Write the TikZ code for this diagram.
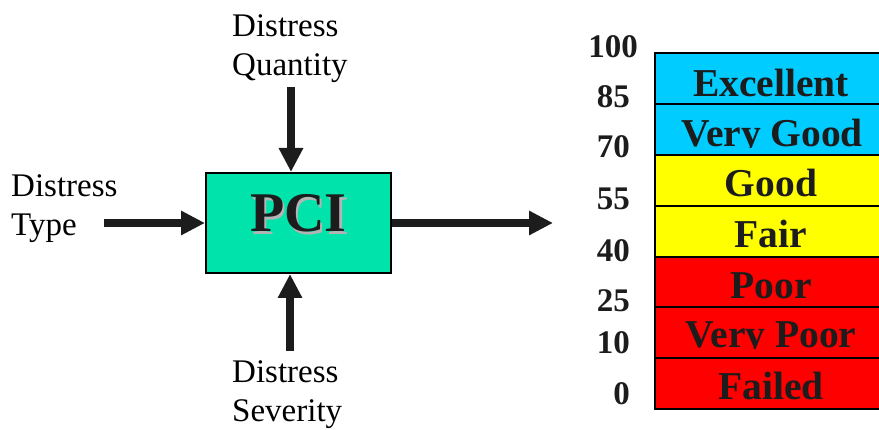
\documentclass[tikz,border=0pt]{standalone}
\usepackage{fontspec}
\setmainfont{Liberation Serif}
\usetikzlibrary{arrows.meta}
\definecolor{ink}{HTML}{1C1C1C}
\definecolor{pcigreen}{HTML}{00E3AA}
\definecolor{exccyan}{HTML}{00CCFF}
\definecolor{goodyellow}{HTML}{FFFF00}
\definecolor{poorred}{HTML}{FF0000}
\definecolor{shadowgray}{HTML}{B4B4B4}
\tikzset{
  arr/.style={draw=ink, line width=7.5pt, -{Triangle[length=24pt,width=23pt]}},
  inlabel/.style={inner sep=0pt, anchor=north west, align=left, text=black,
    font=\fontsize{33}{39}\selectfont},
  scalenum/.style={inner sep=0pt, anchor=base east, text=ink,
    font=\fontsize{33}{39}\selectfont\bfseries},
  catlabel/.style={inner sep=0pt, anchor=base, text=ink,
    font=\fontsize{39.5}{44}\selectfont\bfseries},
  rowbox/.style={draw=black, line width=2pt},
}
\begin{document}
\begin{tikzpicture}[x=1pt,y=-1pt]
\useasboundingbox (0,0) rectangle (879,430);
% PCI box
\node[draw=black, line width=2pt, fill=pcigreen, minimum width=185pt, minimum height=100pt,
      inner sep=0pt, text depth=20pt, text=ink, font=\fontsize{56}{60}\selectfont\bfseries]
      (pci) at (298.5,223)
      {\makebox[0pt][l]{\hspace{2.5pt}\raisebox{-2.5pt}{\color{shadowgray}PCI}}PCI};
% input labels
\node[inlabel] (quant) at (232,14) {Distress\\Quantity};
\node[inlabel] (type) at (11,174.5) {Distress\\Type};
\node[inlabel] (sev) at (232,360.5) {Distress\\Severity};
% arrows
\coordinate (qtail) at (291,87);
\coordinate (ttail) at (104,223);
\coordinate (stail) at (290,351);
\coordinate (outtip) at (553,223);
\draw[arr] (qtail) -- (qtail |- pci.north);
\draw[arr] (ttail) -- (ttail -| pci.west);
\draw[arr] (stail) -- (stail |- pci.south);
\draw[arr] (pci.east |- outtip) -- (outtip);
% scale rows
\path[fill=exccyan] (655,53) rectangle (890,104);
\path[fill=exccyan] (655,104) rectangle (890,155);
\path[fill=goodyellow] (655,155) rectangle (890,206);
\path[fill=goodyellow] (655,206) rectangle (890,257);
\path[fill=poorred] (655,257) rectangle (890,307.5);
\path[fill=poorred] (655,307.5) rectangle (890,358);
\path[fill=poorred] (655,358) rectangle (890,409);
\node[catlabel] (exc) at (771,96.5) {Excellent};
\begin{scope}
\clip (655,104) rectangle (890,147.8);
\node[catlabel] (vgood) at (772,147) {Very Good};
\end{scope}
\node[catlabel] (good) at (771,196.7) {Good};
\node[catlabel] (fair) at (771,248) {Fair};
\node[catlabel] (poor) at (771,298.3) {Poor};
\begin{scope}
\clip (655,307.5) rectangle (890,348.8);
\node[catlabel] (vpoor) at (771,348) {Very Poor};
\end{scope}
\node[catlabel] (failed) at (771,400) {Failed};
\draw[rowbox] (655,53) rectangle (890,409);
\foreach \yy in {104,155,206,257,307.5,358}{
  \draw[rowbox] (655,\yy) -- (890,\yy);
}
% scale numbers
\node[scalenum] (n100) at (638,57.3) {100};
\node[scalenum] (n85) at (630,107.5) {85};
\node[scalenum] (n70) at (630,158) {70};
\node[scalenum] (n55) at (630,210) {55};
\node[scalenum] (n40) at (630,261.5) {40};
\node[scalenum] (n25) at (630,311.5) {25};
\node[scalenum] (n10) at (630,354) {10};
\node[scalenum] (n0) at (630,405) {0};
\end{tikzpicture}
\end{document}
